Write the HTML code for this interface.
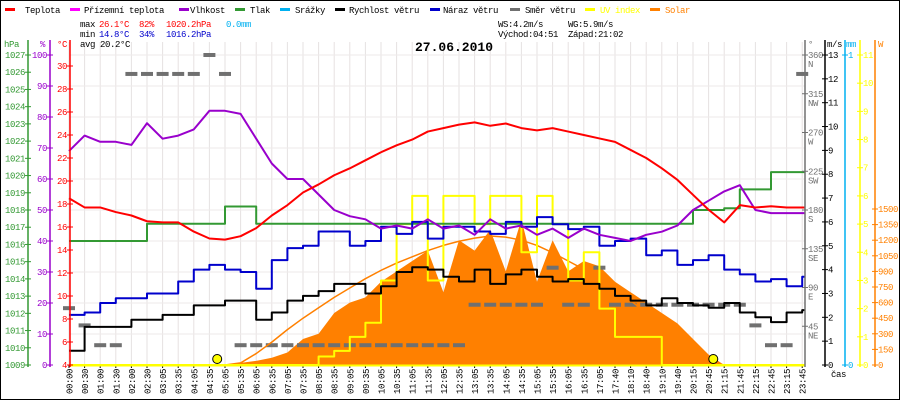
<!DOCTYPE html>
<html><head><meta charset="utf-8"><style>
html,body{margin:0;padding:0;background:#fff}
svg{display:block}
text{font-family:"Liberation Mono",monospace;font-size:9px;letter-spacing:-0.4px}
</style></head><body>
<svg id="c" width="900" height="400" xmlns="http://www.w3.org/2000/svg">
<rect x="0.5" y="0.5" width="899" height="399" fill="#fff" stroke="#000"/>
<g id="grid"></g>
<g id="marks"></g>
<g id="axes"></g>
<g id="legend"></g>
<g>
<text x="80" y="27" fill="#000">max</text><text x="99" y="27" fill="#f00">26.1°C</text><text x="139" y="27" fill="#f00">82%</text><text x="166" y="27" fill="#f00">1020.2hPa</text><text x="226" y="27" fill="#00b0f0">0.0mm</text>
<text x="80" y="37" fill="#000">min</text><text x="99" y="37" fill="#0000cc">14.8°C</text><text x="139" y="37" fill="#0000cc">34%</text><text x="166" y="37" fill="#0000cc">1016.2hPa</text>
<text x="80" y="47" fill="#000">avg 20.2°C</text>
<text x="498" y="27" fill="#000">WS:4.2m/s</text><text x="568" y="27" fill="#000">WG:5.9m/s</text>
<text x="498" y="37" fill="#000">Východ:04:51</text><text x="568" y="37" fill="#000">Západ:21:02</text>
</g>
<text x="415" y="51" style="font-size:13px;letter-spacing:0" font-weight="bold" fill="#000">27.06.2010</text>
</svg>
<script>
const timeLabels=["00:00","00:30","01:00","01:30","02:00","02:30","03:05","03:35","04:05","04:35","05:05","05:35","06:05","06:35","07:05","07:35","08:05","08:35","09:05","09:35","10:05","10:35","11:05","11:35","12:05","12:35","13:05","13:35","14:05","14:35","15:05","15:35","16:05","16:35","17:05","17:40","18:10","18:40","19:10","19:40","20:15","20:45","21:15","21:45","22:15","22:45","23:15","23:45"];
const temperature=[18.5,17.7,17.7,17.3,17.0,16.5,16.4,16.4,15.6,15.0,14.9,15.2,15.9,17.0,17.9,19.0,19.7,20.5,21.1,21.8,22.5,23.1,23.6,24.3,24.6,24.9,25.1,24.8,25.0,24.6,24.4,24.6,24.3,24.0,23.7,23.4,22.7,22.0,21.1,20.1,18.8,17.5,16.4,17.9,17.7,17.8,17.7,17.7];
const humidity=[69,74,72,72,71,78,73,74,76,82,82,81,73,65,60,60,55,50,48,47,44,45,44,47,44,45,42,47,44,45,42,44,41,44,42,41,40,42,43,45,50,53,56,58,50,49,49,49];
const pressure=[1016.2,1016.2,1016.2,1016.2,1016.2,1017.2,1017.2,1017.2,1017.2,1017.2,1018.2,1018.2,1017.2,1017.2,1017.2,1017.2,1017.2,1017.2,1017.2,1017.2,1017.2,1017.2,1017.2,1017.2,1017.2,1017.2,1017.2,1017.2,1017.2,1017.2,1017.2,1017.2,1017.2,1017.2,1017.2,1017.2,1017.2,1017.2,1017.2,1017.2,1018.0,1018.0,1018.1,1019.2,1019.2,1020.2,1020.2,1020.2];
const windSpeed=[0.6,1.6,1.6,1.6,1.9,1.9,2.1,2.1,2.5,2.5,2.7,2.7,1.9,2.2,2.7,2.9,3.1,3.4,3.4,3.0,3.3,3.9,4.1,4.0,3.7,3.5,4.0,3.4,3.8,4.0,3.7,3.5,3.6,3.4,3.2,2.9,2.7,2.5,2.8,2.6,2.5,2.4,2.6,2.2,2.0,1.8,2.2,2.3];
const windGust=[2.1,2.2,2.6,2.8,2.8,3.0,3.0,3.5,4.0,4.2,4.0,3.9,3.2,4.4,4.9,5.0,5.6,5.6,5.0,5.2,5.8,5.5,6.0,5.3,5.8,5.8,5.6,5.5,6.0,5.8,6.2,5.9,5.7,5.8,5.0,5.2,5.3,4.6,4.8,4.2,4.4,4.6,4.0,3.8,3.5,3.6,3.3,3.7];
const windDir=[66,46,23,23,338,338,338,338,338,360,338,23,23,23,23,23,23,23,23,23,23,23,23,23,23,23,70,70,70,70,70,113,70,70,113,70,70,70,70,70,70,70,70,70,46,23,23,338];
const solar=[0,0,0,0,0,0,0,0,0,0,0,20,40,70,120,250,300,500,600,650,800,900,1000,1100,700,1200,1100,1300,900,1400,800,1200,900,1000,950,800,700,600,500,400,250,100,0,0,0,0,0,0];
const solarTheory=[0,0,0,0,0,0,0,0,0,0,0,20,110,220,340,450,550,650,740,830,910,980,1040,1100,1150,1190,1220,1240,1230,1200,1150,1080,1000,920,820,720,620,500,380,260,140,30,0,0,0,0,0,0];
const uvIndex=[0,0,0,0,0,0,0,0,0,0,0,0,0,0,0,0,0.3,0.5,1,1.5,3,5,6,3,6,6,5,6,6,4,6,5,3,4,2,1,1,1,0,0,0,0,0,0,0,0,0,0];
const sunEvents=[9.5,41.3];

const NS='http://www.w3.org/2000/svg';
const X0=69,DX=15.6,Y0=365,YT=55,H=Y0-YT;
const xAt=i=>X0+i*DX;
const yTemp=v=>Y0-(v-4)*11.5;
const yHum=v=>Y0-v/100*H;
const yPres=v=>Y0-(v-1009)/18*H;
const yWind=v=>Y0-v/13*H;
const yDir=v=>Y0-v/360*H;
const ySol=v=>Y0-v*0.104;
const yUV=v=>Y0-v/11*H;
function mk(tag,attrs,parent){const e=document.createElementNS(NS,tag);for(const k in attrs)e.setAttribute(k,attrs[k]);parent.appendChild(e);return e;}
const grid=document.getElementById('grid'),marks=document.getElementById('marks'),axes=document.getElementById('axes'),legend=document.getElementById('legend');

for(let i=0;i<timeLabels.length;i++){
  const l=mk('line',{x1:xAt(i),x2:xAt(i),y1:42,y2:Y0,stroke:'#e6e2e2','stroke-width':1},grid);
  
  
  const t=mk('text',{transform:`translate(${xAt(i)+3.5},369) rotate(-90)`,'text-anchor':'end',fill:'#000'},axes);
  t.textContent=timeLabels[i];
  
  
  mk('line',{x1:xAt(i),x2:xAt(i),y1:Y0,y2:Y0+3,stroke:'#000'},axes);
}
for(let h=10;h<=100;h+=10){
  const l=mk('line',{x1:70,x2:805,y1:yHum(h),y2:yHum(h),stroke:'#eeeaea','stroke-width':1},grid);
  
  
}

function series(arr,yf,color,name,step,w){
  let d='';
  arr.forEach((v,i)=>{const x=xAt(i),y=yf(v);
    if(i===0)d+=`M${x},${y}`;else if(step){d+=`H${x}V${y}`;}else d+=`L${x},${y}`;});
  d+=`H805`;
  const p=mk('path',{d,fill:'none',stroke:color,'stroke-width':w||2,'stroke-linejoin':'round'},marks);
  
  
}
{
  let d=`M${xAt(0)},${Y0}`;
  solar.forEach((v,i)=>{d+=`L${xAt(i)},${ySol(v)}`;});
  d+=`L${xAt(solar.length-1)},${Y0}Z`;
  const p=mk('path',{d,fill:'#ff8000',stroke:'none'},marks);
  
  
}
windDir.forEach((v,i)=>{
  const r=mk('rect',{x:xAt(i)-6,y:yDir(v)-2,width:12,height:4,fill:'#707070'},marks);
  
  
});
series(solarTheory,ySol,'#ff8000','solar-theory-line',false,1.5);
series(uvIndex,yUV,'#ffff00','uv-index-line',true,2);
series(pressure,yPres,'#339933','pressure-line',true,2);
series(windGust,yWind,'#0000cc','wind-gust-line',true,2);
series(windSpeed,yWind,'#000000','wind-speed-line',true,2);
series(humidity,yHum,'#9900cc','humidity-line',false,2);
series(temperature,yTemp,'#ff0000','temperature-line',false,2);
sunEvents.forEach(i=>{
  const c=mk('circle',{cx:xAt(i),cy:359,r:4.5,fill:'#ffff00',stroke:'#000','stroke-width':1},marks);
  
  
});
mk('line',{x1:70,x2:805,y1:Y0+0.5,y2:Y0+0.5,stroke:'#ffff00','stroke-width':2},axes);

function axis(x,color,ticks,yf,labelX,anchor,unit,unitX,name,sub){
  const g=mk('g',{},axes);
  
  
  mk('line',{x1:x,x2:x,y1:40,y2:Y0+2,stroke:color,'stroke-width':1.5},g);
  ticks.forEach((v,k)=>{const y=yf(v);
    mk('line',{x1:x-3,x2:x+3,y1:y,y2:y,stroke:color},g);
    const t=mk('text',{x:labelX,y:y+3,'text-anchor':anchor,fill:color},g);t.textContent=v;
    if(sub&&sub[k]){const s=mk('text',{x:labelX,y:y+12,'text-anchor':anchor,fill:color},g);s.textContent=sub[k];}
  });
  const u=mk('text',{x:unitX,y:47,fill:color},g);u.textContent=unit;
}
axis(28,'#339933',[1009,1010,1011,1012,1013,1014,1015,1016,1017,1018,1019,1020,1021,1022,1023,1024,1025,1026,1027],yPres,25,'end','hPa',4,'pressure-axis');
axis(50,'#9900cc',[0,10,20,30,40,50,60,70,80,90,100],yHum,47,'end','%',40,'humidity-axis');
axis(70,'#ff0000',[4,6,8,10,12,14,16,18,20,22,24,26,28,30],yTemp,67,'end','°C',57,'temperature-axis');
axis(805,'#707070',[45,90,135,180,225,270,315,360],yDir,808,'start','°',808,'wind-direction-axis',['NE','E','SE','S','SW','W','NW','N']);
axis(825,'#000000',[0,1,2,3,4,5,6,7,8,9,10,11,12,13],yWind,828,'start','m/s',827,'wind-speed-axis');
axis(845,'#00b0f0',[0,1],v=>Y0-v*H,848,'start','mm',846,'rain-axis');
axis(860,'#ffff00',[0,1,2,3,4,5,6,7,8,9,10,11],yUV,863,'start','',863,'uv-axis');
axis(875,'#ff8000',[0,150,300,450,600,750,900,1050,1200,1350,1500],ySol,878,'start','W',878,'solar-axis');
{const t=mk('text',{x:831,y:377,fill:'#000'},axes);t.textContent='čas';

}

const legendNames=["Teplota","Přízemní teplota","Vlhkost","Tlak","Srážky","Rychlost větru","Náraz větru","Směr větru","UV index","Solar"];
const legendColors=["#ff0000","#ff00ff","#9900cc","#339933","#00b0f0","#000000","#0000cc","#707070","#ffff00","#ff8000"];
const legendLineX=[5,70,179,235,280,335,430,510,585,650];
const legendTextX=[25,84,190,250,295,349,443,525,600,665];
legendNames.forEach((n,k)=>{
  const g=mk('g',{},legend);
  
  
  mk('rect',{x:legendLineX[k],y:8,width:10,height:3,fill:legendColors[k]},g);
  const t=mk('text',{x:legendTextX[k],y:13,fill:k>=8?legendColors[k]:'#000'},g);t.textContent=n;
});
</script>
</body></html>
